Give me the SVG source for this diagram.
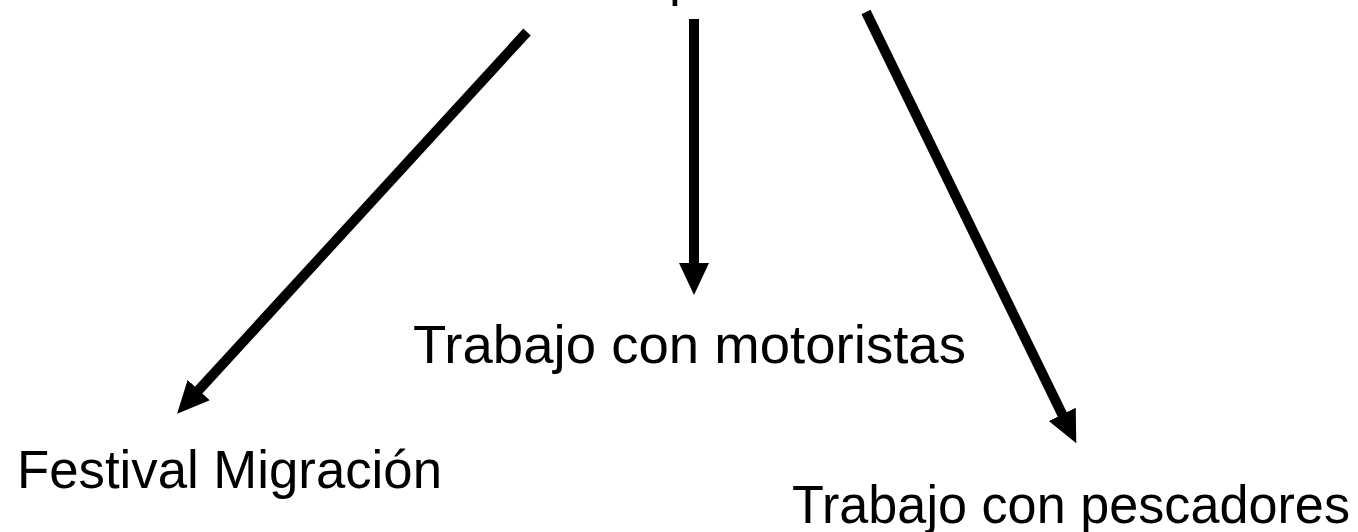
<svg xmlns="http://www.w3.org/2000/svg" width="1358" height="532" viewBox="0 0 1358 532">
<style>
  .lbl { font-family: "Liberation Sans", Arial, sans-serif; font-size: 53px; fill: #000; }
  .conn { stroke: #000; stroke-width: 10; fill: none; marker-end: url(#head); }
</style>
<defs>
  <marker id="head" markerUnits="userSpaceOnUse" markerWidth="34" markerHeight="32" refX="4" refY="15" orient="auto" viewBox="0 0 34 30">
    <path d="M0,0 L32,15 L0,30 z" fill="#000"/>
  </marker>
</defs>
<rect width="1358" height="532" fill="#fff"/>
<g id="top">
  <text class="lbl" x="669" y="-5">p</text>
</g>
<g id="connectors">
  <line class="conn" x1="527" y1="32" x2="196" y2="393"/>
  <line class="conn" x1="694" y1="19" x2="694" y2="267"/>
  <line class="conn" x1="866" y1="12" x2="1064" y2="418"/>
</g>
<g id="festival">
  <text class="lbl" x="17" y="488" textLength="425" lengthAdjust="spacingAndGlyphs">Festival Migración</text>
</g>
<g id="motoristas">
  <text class="lbl" x="413" y="363" textLength="553" lengthAdjust="spacingAndGlyphs">Trabajo con motoristas</text>
</g>
<g id="pescadores">
  <text class="lbl" x="792" y="523" textLength="558" lengthAdjust="spacingAndGlyphs">Trabajo con pescadores</text>
</g>
</svg>
